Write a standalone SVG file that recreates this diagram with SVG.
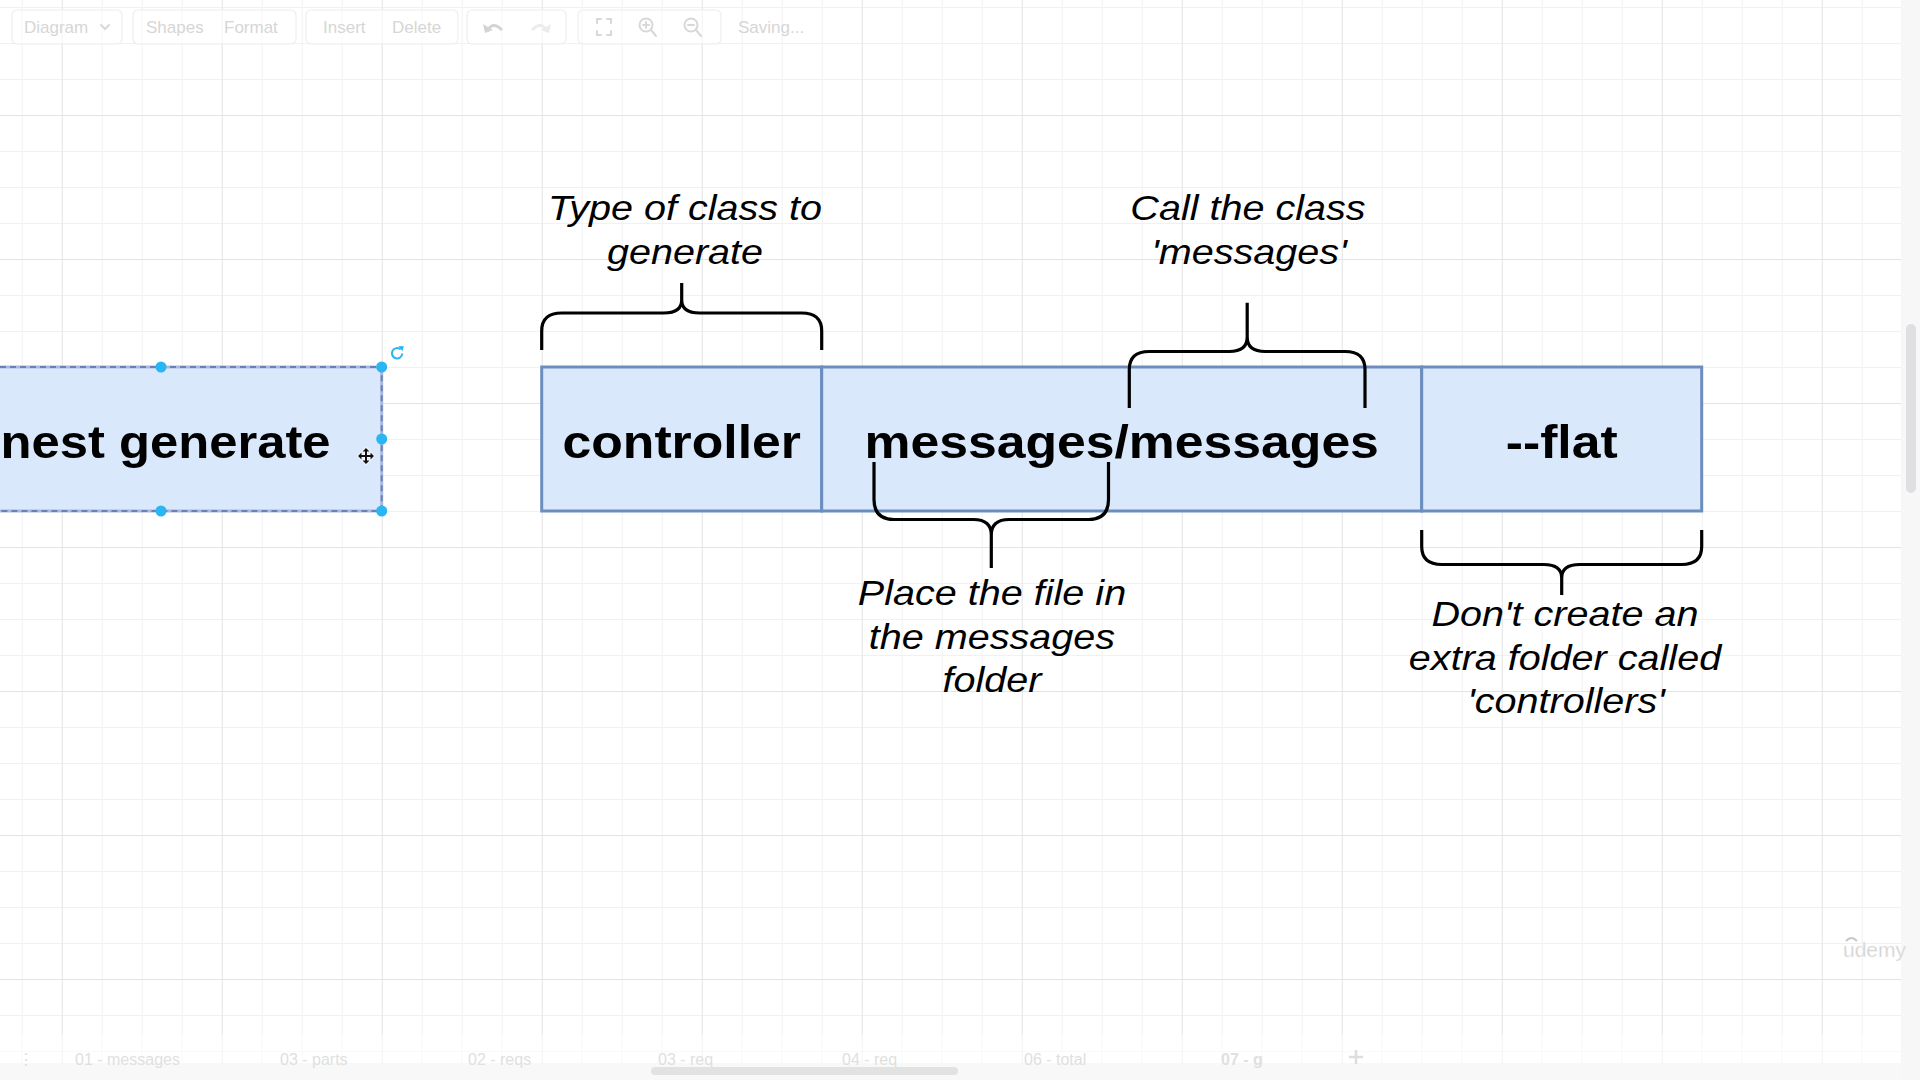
<svg xmlns="http://www.w3.org/2000/svg" width="1920" height="1080" viewBox="0 0 1920 1080">
<style>
.bold{font-family:"Liberation Sans",Arial,Helvetica,sans-serif;font-weight:bold;font-size:47px;fill:#000;text-anchor:middle}
.lab{font-family:"Liberation Sans",Arial,Helvetica,sans-serif;font-style:italic;font-size:35.5px;fill:#000;text-anchor:middle}
.cell{fill:#dae8fc;stroke:#6c8ebf;stroke-width:3}
.brace{fill:none;stroke:#000;stroke-width:3.2;stroke-linejoin:round}
.ui{font-family:"Liberation Sans",Arial,sans-serif;font-size:17px;fill:#d6d6d6}
.tab{font-family:"Liberation Sans",Arial,sans-serif;font-size:16px;fill:#e0e0e0}
.handle{fill:#29b6f2}
.tb{fill:#fff;fill-opacity:.6;stroke:#eeeeee;stroke-width:1.2}
.icon{fill:none;stroke:#d8d8d8;stroke-width:2;stroke-linecap:round}
</style>
<defs>
<pattern id="grid" x="61.7" y="115" width="160" height="144" patternUnits="userSpaceOnUse">
<path d="M40.5 0V144M80.5 0V144M120.5 0V144M0 36.5H160M0 72.5H160M0 108.5H160" stroke="#f1f1f3" stroke-width="1"/>
<path d="M0.5 0V144M0 0.5H160" stroke="#e3e3e5" stroke-width="1.2"/>
</pattern>
</defs>

<rect x="0" y="0" width="1920" height="1080" fill="#ffffff"/>
<rect x="0" y="0" width="1901" height="1063" fill="url(#grid)"/>

<!-- toolbar (faded UI) -->
<g id="toolbar">
<rect class="tb" x="12" y="10" width="110" height="34" rx="5"/>
<rect class="tb" x="133" y="10" width="163" height="34" rx="5"/>
<rect class="tb" x="306" y="10" width="152" height="34" rx="5"/>
<rect class="tb" x="467" y="10" width="99" height="34" rx="5"/>
<rect class="tb" x="578" y="10" width="143" height="34" rx="5"/>
<text class="ui" x="24" y="33">Diagram</text>
<path class="icon" d="M101,25 L105,29 L109,25" stroke-width="1.5"/>
<text class="ui" x="146" y="33">Shapes</text>
<text class="ui" x="224" y="33">Format</text>
<text class="ui" x="323" y="33">Insert</text>
<text class="ui" x="392" y="33">Delete</text>
<path d="M487,32 Q492,20 502,30" fill="none" stroke="#d4d4d4" stroke-width="3"/>
<polygon points="483,24 485,33 493,30" fill="#d4d4d4"/>
<path d="M547,32 Q542,20 532,30" fill="none" stroke="#ececec" stroke-width="3"/>
<polygon points="551,24 549,33 541,30" fill="#ececec"/>
<path class="icon" d="M597,23 V19 H601 M607,19 H611 V23 M611,31 V35 H607 M601,35 H597 V31"/>
<circle class="icon" cx="646" cy="25" r="6.5"/>
<path class="icon" d="M651,30 L656,36 M643,25 H649 M646,22 V28"/>
<circle class="icon" cx="691" cy="25" r="6.5"/>
<path class="icon" d="M696,30 L701,36 M688,25 H694"/>
<text class="ui" x="738" y="33">Saving...</text>
</g>

<!-- selected node: nest generate -->
<g id="node-nest-generate">
<rect x="-60" y="367" width="441.7" height="144" fill="#dae8fc" stroke="#a9b8dc" stroke-width="3"/>
<rect x="-60" y="367" width="441.7" height="144" fill="none" stroke="#6c80b8" stroke-width="2" stroke-dasharray="6 4"/>
<text class="bold" transform="translate(165.5,457.5) scale(1.08,1)">nest generate</text>
<circle class="handle" cx="161" cy="367" r="5.5"/>
<circle class="handle" cx="381.7" cy="367" r="5.5"/>
<circle class="handle" cx="381.7" cy="439" r="5.5"/>
<circle class="handle" cx="161" cy="511" r="5.5"/>
<circle class="handle" cx="381.7" cy="511" r="5.5"/>
<path d="M400.6,349.4 A5.2,5.2 0 1 0 402.3,353.5" fill="none" stroke="#29b6f2" stroke-width="2"/>
<polygon points="398.5,346 403.8,346.2 402.5,351.2" fill="#29b6f2"/>
<path transform="translate(366,456)" d="M0,-8 L3.5,-4.5 H1 V-1 H4.5 V-3.5 L8,0 L4.5,3.5 V1 H1 V4.5 H3.5 L0,8 L-3.5,4.5 H-1 V1 H-4.5 V3.5 L-8,0 L-4.5,-3.5 V-1 H-1 V-4.5 H-3.5 Z" fill="#111" stroke="#fff" stroke-width="1.5" paint-order="stroke"/>
</g>

<!-- command cells -->
<g id="node-controller">
<rect class="cell" x="541.7" y="367" width="280" height="144"/>
<text class="bold" transform="translate(681.7,457.5) scale(1.1,1)">controller</text>
</g>
<g id="node-messages">
<rect class="cell" x="821.7" y="367" width="600" height="144"/>
<text class="bold" transform="translate(1121.7,457.5) scale(1.1,1)">messages/messages</text>
</g>
<g id="node-flat">
<rect class="cell" x="1421.7" y="367" width="280" height="144"/>
<text class="bold" transform="translate(1561.7,457.5) scale(1.1,1)">--flat</text>
</g>

<!-- braces -->
<g id="connectors">
<path class="brace" d="M541.7,350 V331 Q541.7,313 561.7,313 H663.7 Q681.7,313 681.7,300 Q681.7,313 699.7,313 H801.7 Q821.7,313 821.7,331 V350 M681.7,300 V283"/>
<path class="brace" d="M1129.3,408 V369.5 Q1129.3,351.5 1149.3,351.5 H1229.2 Q1247.2,351.5 1247.2,337 Q1247.2,351.5 1265.2,351.5 H1345 Q1365,351.5 1365,369.5 V408 M1247.2,337 V302.7"/>
<path class="brace" d="M874,462 V499.5 Q874,519.5 894,519.5 H973.3 Q991.3,519.5 991.3,535 Q991.3,519.5 1009.3,519.5 H1088.5 Q1108.5,519.5 1108.5,499.5 V462 M991.3,535 V568"/>
<path class="brace" d="M1421.7,530 V546.5 Q1421.7,564.5 1441.7,564.5 H1543.7 Q1561.7,564.5 1561.7,578 Q1561.7,564.5 1579.7,564.5 H1681.7 Q1701.7,564.5 1701.7,546.5 V530 M1561.7,578 V595"/>
</g>

<!-- labels -->
<g id="label-type">
<text class="lab" transform="translate(685,219.5) scale(1.115,1)">Type of class to</text>
<text class="lab" transform="translate(685,263.5) scale(1.115,1)">generate</text>
</g>
<g id="label-call">
<text class="lab" transform="translate(1248,219.5) scale(1.115,1)">Call the class</text>
<text class="lab" transform="translate(1249,263.5) scale(1.115,1)">'messages'</text>
</g>
<g id="label-place">
<text class="lab" transform="translate(992,605) scale(1.115,1)">Place the file in</text>
<text class="lab" transform="translate(992,648.5) scale(1.115,1)">the messages</text>
<text class="lab" transform="translate(992,692) scale(1.115,1)">folder</text>
</g>
<g id="label-flat">
<text class="lab" transform="translate(1565,626) scale(1.115,1)">Don't create an</text>
<text class="lab" transform="translate(1565,669.5) scale(1.115,1)">extra folder called</text>
<text class="lab" transform="translate(1566,713) scale(1.115,1)">'controllers'</text>
</g>

<!-- right scrollbar -->
<g id="scroll-right">
<rect x="1901" y="0" width="19" height="1080" fill="#f7f7f8"/>
<rect x="1906" y="324" width="10" height="169" rx="5" fill="#dfdfe2"/>
</g>

<!-- bottom tab bar -->
<g id="tabbar">
<rect x="0" y="1035" width="1901" height="28" fill="#ffffff" fill-opacity="0.55"/>
<rect x="0" y="1063" width="1901" height="17" fill="#f8f8f8"/>
<text class="tab" x="18" y="1065">⋮</text>
<text class="tab" x="75" y="1065">01 - messages</text>
<text class="tab" x="280" y="1065">03 - parts</text>
<text class="tab" x="468" y="1065">02 - reqs</text>
<text class="tab" x="658" y="1065">03 - req</text>
<text class="tab" x="842" y="1065">04 - req</text>
<text class="tab" x="1024" y="1065">06 - total</text>
<text class="tab" x="1221" y="1065" font-weight="bold" fill="#d4d4d4">07 - g</text>
<path d="M1356,1050 V1064 M1349,1057 H1363" stroke="#dedede" stroke-width="2.5"/>
<rect x="651" y="1067" width="307" height="8" rx="4" fill="#e2e2e2"/>
</g>

<!-- watermark -->
<g id="watermark">
<path d="M1846,941 Q1851.5,935 1857,941" fill="none" stroke="#c8c8c8" stroke-width="2"/>
<text x="1843" y="957" font-family="'Liberation Sans',Arial,sans-serif" font-size="21" fill="#cccccc" stroke="#f4f4f4" stroke-width="0.6">udemy</text>
</g>
</svg>
